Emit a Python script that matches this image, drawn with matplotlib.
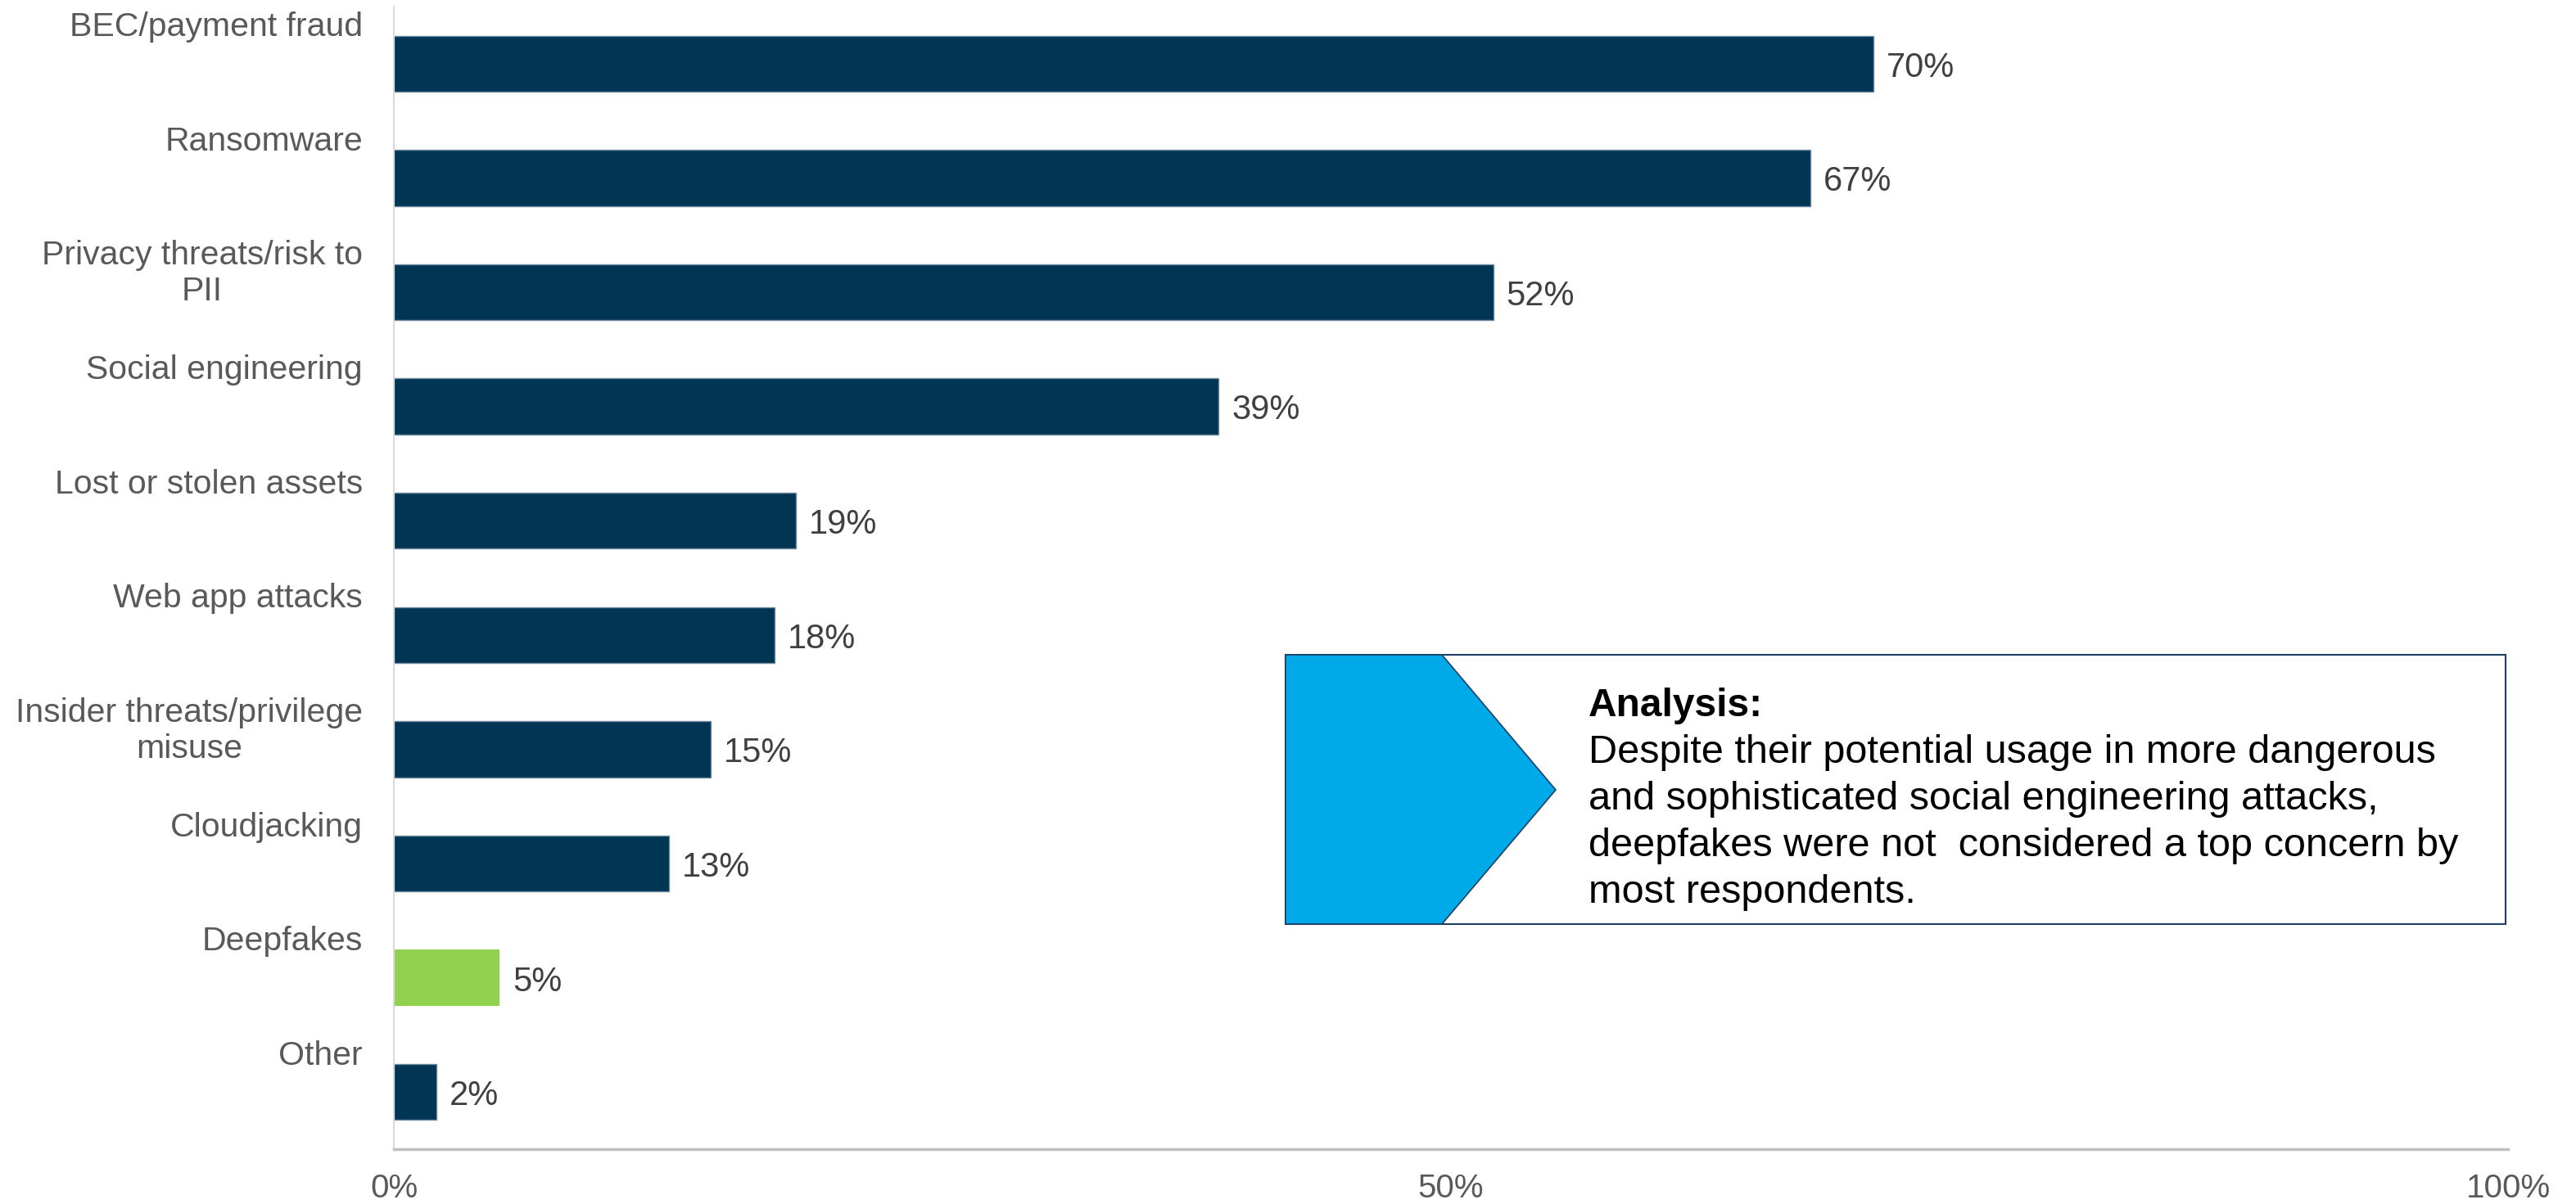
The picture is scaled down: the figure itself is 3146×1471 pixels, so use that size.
import matplotlib.pyplot as plt
from matplotlib.patches import Polygon, Rectangle

plt.rcParams["font.family"] = ["Liberation Sans", "DejaVu Sans"]

categories = [
    "BEC/payment fraud",
    "Ransomware",
    "Privacy threats/risk to\nPII",
    "Social engineering",
    "Lost or stolen assets",
    "Web app attacks",
    "Insider threats/privilege\nmisuse",
    "Cloudjacking",
    "Deepfakes",
    "Other",
]
values = [70, 67, 52, 39, 19, 18, 15, 13, 5, 2]
highlight = "Deepfakes"
xticks = [0, 50, 100]
xtick_labels = ["0%", "50%", "100%"]

navy = "#003553"
green = "#92D050"

fig = plt.figure(figsize=(31.46, 14.71), dpi=100)
ax = fig.add_axes([0.1529, 0.0455, 0.8207, 0.9491])

y = list(range(len(categories)))
colors = [green if c == highlight else navy for c in categories]
edges = ["none" if c == highlight else "#6F8BA0" for c in categories]
ax.barh(y, values, height=0.49, color=colors, edgecolor=edges, linewidth=1)

ax.set_xlim(0, 100)
ax.set_ylim(len(categories) - 0.5, -0.5)
ax.set_yticks([])
ax.set_xticks(xticks)
ax.set_xticklabels(xtick_labels)
ax.tick_params(axis="x", length=0, pad=21, labelsize=29, labelcolor="#595959")

for side in ["top", "right"]:
    ax.spines[side].set_visible(False)
ax.spines["left"].set_color("#D9D9D9")
ax.spines["left"].set_linewidth(1.5)
ax.spines["bottom"].set_color("#BFBFBF")
ax.spines["bottom"].set_linewidth(2.5)

# category labels sit at the top of each slot
for i, cat in enumerate(categories):
    ax.text(-0.0147, i - 0.455, cat, transform=ax.get_yaxis_transform(),
            ha="right", va="top", multialignment="center",
            fontsize=29.5, color="#595959")

for i, v in enumerate(values):
    ax.annotate(f"{v}%", (v, i), xytext=(11.5, -3.5), textcoords="offset points",
                ha="left", va="center", fontsize=30, color="#404040")

# analysis call-out box (figure pixel coords)
W, H = 3146, 1471


def fx(px):
    return px / W


def fy(py):
    return 1 - py / H


box = Rectangle((fx(1570), fy(1129)), fx(3060) - fx(1570), fy(800) - fy(1129),
                transform=fig.transFigure, facecolor="white",
                edgecolor="#1F3F66", linewidth=1.5)
fig.patches.append(box)
chevron = Polygon([(fx(1570), fy(800)), (fx(1761), fy(800)), (fx(1900), fy(965)),
                   (fx(1761), fy(1129)), (fx(1570), fy(1129))],
                  closed=True, transform=fig.transFigure,
                  facecolor="#00A9E8", edgecolor="#1F3F66", linewidth=1.2)
fig.patches.append(chevron)

fig.text(fx(1940), fy(875), "Analysis:", fontsize=34.5, fontweight="bold",
         color="black", ha="left", va="baseline")
# multi-line baseline anchors the last line
fig.text(fx(1940), fy(1103),
         "Despite their potential usage in more dangerous\n"
         "and sophisticated social engineering attacks,\n"
         "deepfakes were not  considered a top concern by\n"
         "most respondents.",
         fontsize=35, color="black", ha="left", va="baseline", linespacing=1.34)

fig.savefig("out.png", dpi=100)
